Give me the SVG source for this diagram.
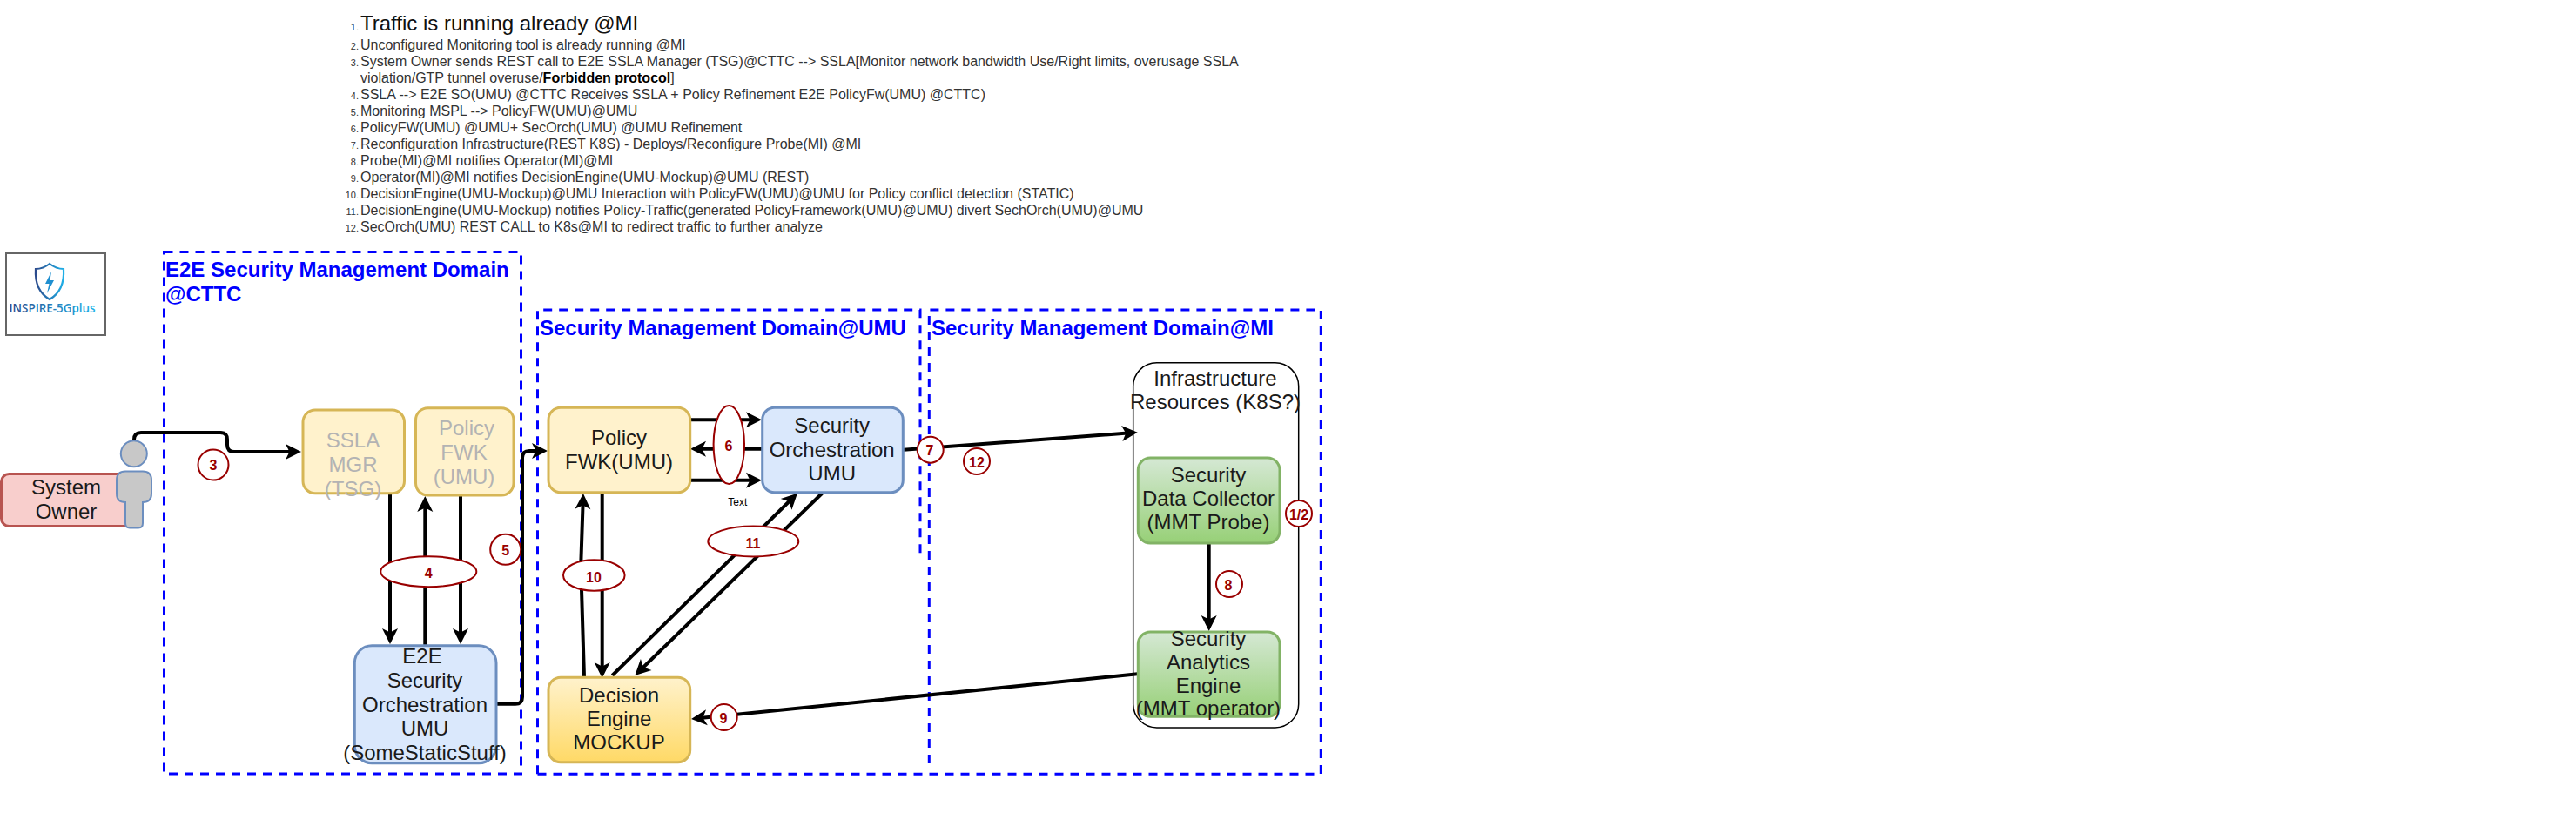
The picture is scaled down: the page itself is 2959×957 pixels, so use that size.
<svg xmlns="http://www.w3.org/2000/svg" width="2959" height="957" viewBox="0 0 2959 957">
<style>
text{font-family:"Liberation Sans",Arial,sans-serif}
.li{font-size:16px;fill:#333}
.n{font-size:11px;fill:#333;text-anchor:end}
.dom{fill:none;stroke:#0000ff;stroke-width:3;stroke-dasharray:10 8}
.dt{font-size:24px;font-weight:bold;fill:#0000ff}
.box{stroke-width:3}
.y{fill:#fff2cc;stroke:#d6b656}
.b{fill:#dae8fc;stroke:#6c8ebf}
.t{font-size:24px;fill:#1a1a1a;text-anchor:middle}
.f{font-size:24px;fill:#b3b3b3;text-anchor:middle}
.c{fill:none;stroke:#000;stroke-width:4}
.a{marker-end:url(#arr)}
.m{fill:#fff;stroke:#990000;stroke-width:2}
.l{font-size:16px;font-weight:bold;fill:#990000;text-anchor:middle}
.p{fill:#c8c8c8;stroke:#6c8ebf;stroke-width:2}
</style>
<defs>
<marker id="arr" markerUnits="userSpaceOnUse" markerWidth="20" markerHeight="20" refX="13" refY="10" orient="auto" overflow="visible"><path d="M0,1 L18,10 L0,19 L4.5,10 Z" fill="#000"/></marker>
<linearGradient id="gy" x1="0" y1="0" x2="0" y2="1"><stop offset="0" stop-color="#fff2cc"/><stop offset="1" stop-color="#ffd966"/></linearGradient>
<linearGradient id="gg" x1="0" y1="0" x2="0" y2="1"><stop offset="0" stop-color="#d5e8d4"/><stop offset="1" stop-color="#97d077"/></linearGradient>
<linearGradient id="gl" x1="0" y1="0" x2="1" y2="0"><stop offset="0" stop-color="#2b4a8c"/><stop offset="1" stop-color="#1fb0e8"/></linearGradient>
</defs>

<g id="steps">
<text class="n" x="412" y="35">1.</text><text x="414" y="35" font-size="24" fill="#111">Traffic is running already @MI</text>
<text class="n" x="412" y="57">2.</text><text class="li" x="414" y="57">Unconfigured Monitoring tool is already running @MI</text>
<text class="n" x="412" y="76">3.</text><text class="li" x="414" y="76">System Owner sends REST call to E2E SSLA Manager (TSG)@CTTC --&gt; SSLA[Monitor network bandwidth Use/Right limits, overusage SSLA</text>
<text class="li" x="414" y="95">violation/GTP tunnel overuse/<tspan font-weight="bold" fill="#000">Forbidden protocol</tspan>]</text>
<text class="n" x="412" y="114">4.</text><text class="li" x="414" y="114">SSLA --&gt; E2E SO(UMU) @CTTC Receives SSLA + Policy Refinement E2E PolicyFw(UMU) @CTTC)</text>
<text class="n" x="412" y="133">5.</text><text class="li" x="414" y="133">Monitoring MSPL --&gt; PolicyFW(UMU)@UMU</text>
<text class="n" x="412" y="152">6.</text><text class="li" x="414" y="152">PolicyFW(UMU) @UMU+ SecOrch(UMU) @UMU Refinement</text>
<text class="n" x="412" y="171">7.</text><text class="li" x="414" y="171">Reconfiguration Infrastructure(REST K8S) - Deploys/Reconfigure Probe(MI) @MI</text>
<text class="n" x="412" y="190">8.</text><text class="li" x="414" y="190">Probe(MI)@MI notifies Operator(MI)@MI</text>
<text class="n" x="412" y="209">9.</text><text class="li" x="414" y="209">Operator(MI)@MI notifies DecisionEngine(UMU-Mockup)@UMU (REST)</text>
<text class="n" x="412" y="228">10.</text><text class="li" x="414" y="228">DecisionEngine(UMU-Mockup)@UMU Interaction with PolicyFW(UMU)@UMU for Policy conflict detection (STATIC)</text>
<text class="n" x="412" y="247">11.</text><text class="li" x="414" y="247">DecisionEngine(UMU-Mockup) notifies Policy-Traffic(generated PolicyFramework(UMU)@UMU) divert SechOrch(UMU)@UMU</text>
<text class="n" x="412" y="266">12.</text><text class="li" x="414" y="266">SecOrch(UMU) REST CALL to K8s@MI to redirect traffic to further analyze</text>
</g>

<g id="logo">
<rect x="7" y="291" width="114" height="94" fill="#fff" stroke="#666" stroke-width="2"/>
<path d="M57,303 C62,307 68,309 73,309 C74,325 69,337 57,344 C45,337 40,325 41,309 C46,309 52,307 57,303 Z" fill="none" stroke="url(#gl)" stroke-width="2.2"/>
<path d="M59,312 L52,326 L56.500,326 L54,337 L62,322 L57.500,322 Z" fill="#1f8fd0"/>
<text x="10.500" y="359" font-size="15" font-weight="600" style="font-family:'Open Sans',sans-serif" fill="url(#gl)" textLength="99" lengthAdjust="spacingAndGlyphs">INSPIRE-5Gplus</text>
</g>

<g id="domain-e2e">
<rect class="dom" x="188.500" y="289.500" width="410" height="599.500"/>
<text class="dt" x="190" y="318">E2E Security Management Domain</text>
<text class="dt" x="190" y="345.500">@CTTC</text>
</g>
<g id="domain-umu">
<path class="dom" d="M617.500,889.300 V356 H1057 V641.500"/>
<text class="dt" x="620" y="384.500">Security Management Domain@UMU</text>
</g>
<g id="domain-mi">
<path class="dom" d="M617.500,889.300 H1517.300 V356 H1067.300 V884"/>
<text class="dt" x="1070" y="384.500">Security Management Domain@MI</text>
</g>

<g id="node-infrastructure">
<rect x="1301.700" y="416.700" width="190" height="419.300" rx="27" fill="#fff" stroke="#000" stroke-width="1.500"/>
<text class="t" x="1396" y="443.300">Infrastructure</text>
<text class="t" x="1396" y="470">Resources (K8S?)</text>
</g>

<g id="connectors">
<path class="c a" d="M154,506 V505 Q154,497 162,497 H253 Q261,497 261,505 V511 Q261,519 269,519 H341"/>
<path class="c a" d="M448,567 V735"/>
<path class="c a" d="M488.300,741 V575"/>
<path class="c a" d="M529,570 V735"/>
<path class="c a" d="M571,808.700 H592 Q600,808.700 600,800.700 V526 Q600,518 608,518 H624"/>
<path class="c a" d="M793,482.300 H870"/>
<path class="c a" d="M875,515.700 H798"/>
<path class="c a" d="M793,551.700 H870"/>
<path class="c a" d="M671,778 L667.200,650 L669.800,572"/>
<path class="c a" d="M691.700,566 V774"/>
<path class="c a" d="M703.300,776 L912.400,570.200"/>
<path class="c a" d="M944.300,566.700 L732.900,772.500"/>
<path class="c a" d="M1038,516.800 L1301.700,497.100"/>
<path class="c a" d="M1388.700,624 V720"/>
<path class="c a" d="M1306.700,774.300 L799,825.500"/>
</g>

<g id="node-system-owner">
<rect class="box" x="1.500" y="544.500" width="150" height="60" rx="9" fill="#f8cecc" stroke="#b85450"/>
<text class="t" x="76" y="568">System</text>
<text class="t" x="76" y="596">Owner</text>
</g>
<g id="node-person">
<circle class="p" cx="153.800" cy="521.300" r="15"/>
<path class="p" d="M144,541.500 H164 Q174,541.500 174,551.500 V567 Q174,577 164,577 V601 Q164,606.500 159,606.500 H149 Q144,606.500 144,601 V577 Q134,577 134,567 V551.500 Q134,541.500 144,541.500 Z"/>
</g>
<g id="node-ssla">
<rect class="box y" x="348" y="471" width="116.500" height="95.700" rx="14"/>
<text class="f" x="405.500" y="514">SSLA</text><text class="f" x="405.500" y="542">MGR</text><text class="f" x="405.500" y="570">(TSG)</text>
</g>
<g id="node-policy-e2e">
<rect class="box y" x="477.500" y="468.700" width="112.500" height="100.300" rx="14"/>
<text class="f" x="536" y="499.500">Policy</text><text class="f" x="533" y="527.500">FWK</text><text class="f" x="533" y="555.500">(UMU)</text>
</g>
<g id="node-e2e-so">
<rect class="box b" x="407.300" y="741.700" width="162.700" height="135" rx="20"/>
<text class="t" x="485" y="761.700">E2E</text><text class="t" x="488" y="790">Security</text><text class="t" x="488" y="817.700">Orchestration</text><text class="t" x="488" y="845.300">UMU</text><text class="t" x="488" y="873.300">(SomeStaticStuff)</text>
</g>
<g id="node-policy-umu">
<rect class="box y" x="630" y="468.300" width="162.700" height="97.400" rx="14"/>
<text class="t" x="711" y="510.500">Policy</text><text class="t" x="711" y="538.700">FWK(UMU)</text>
</g>
<g id="node-so-umu">
<rect class="box b" x="875.700" y="468.300" width="161.600" height="97.400" rx="14"/>
<text class="t" x="955.700" y="497">Security</text><text class="t" x="955.700" y="524.500">Orchestration</text><text class="t" x="955.700" y="552">UMU</text>
</g>
<g id="node-decision">
<rect class="box" x="630" y="778.300" width="162.700" height="97.400" rx="14" fill="url(#gy)" stroke="#d6b656"/>
<text class="t" x="711" y="806.500">Decision</text><text class="t" x="711" y="834">Engine</text><text class="t" x="711" y="861">MOCKUP</text>
</g>
<g id="node-collector">
<rect class="box" x="1307.300" y="526" width="162.700" height="98" rx="14" fill="url(#gg)" stroke="#82b366"/>
<text class="t" x="1388" y="554">Security</text><text class="t" x="1388" y="581">Data Collector</text><text class="t" x="1388" y="608.300">(MMT Probe)</text>
</g>
<g id="node-analytics">
<rect class="box" x="1307.300" y="726" width="162.700" height="97.300" rx="14" fill="url(#gg)" stroke="#82b366"/>
<text class="t" x="1388" y="742">Security</text><text class="t" x="1388" y="769">Analytics</text><text class="t" x="1388" y="795.500">Engine</text><text class="t" x="1388" y="822.300">(MMT operator)</text>
</g>

<g id="step-labels">
<circle class="m" cx="245" cy="534" r="17.500"/><text class="l" x="245" y="540">3</text>
<ellipse class="m" cx="492.300" cy="656.700" rx="55" ry="17.500"/><text class="l" x="492.300" y="664">4</text>
<circle class="m" cx="580.700" cy="631.300" r="17.500"/><text class="l" x="580.700" y="638">5</text>
<ellipse class="m" cx="837.300" cy="511" rx="17.700" ry="45"/><text class="l" x="837" y="518">6</text>
<circle class="m" cx="1068.700" cy="516.700" r="15"/><text class="l" x="1068" y="523" font-size="17">7</text>
<circle class="m" cx="1122" cy="530" r="15"/><text class="l" x="1122" y="537">12</text>
<circle class="m" cx="1492" cy="590" r="15"/><text class="l" x="1492" y="596.500">1/2</text>
<circle class="m" cx="1412" cy="671" r="15"/><text class="l" x="1411" y="678">8</text>
<circle class="m" cx="831.700" cy="824" r="15"/><text class="l" x="831" y="831">9</text>
<ellipse class="m" cx="682.300" cy="661" rx="35.300" ry="17.700"/><text class="l" x="682" y="669">10</text>
<ellipse class="m" cx="865.300" cy="622" rx="52" ry="17.500"/><text class="l" x="865" y="630">11</text>
<text x="847.300" y="580.500" font-size="12" fill="#000" text-anchor="middle">Text</text>
</g>
</svg>
